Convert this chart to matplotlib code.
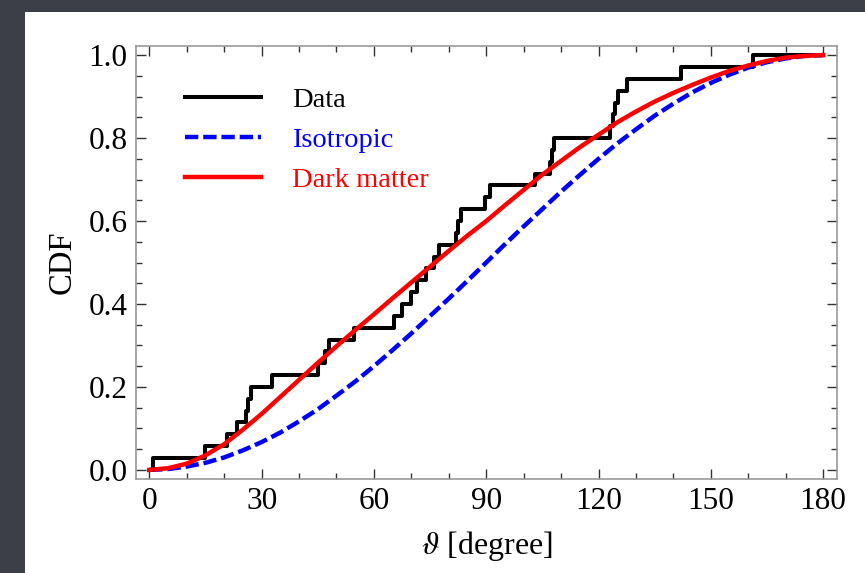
import numpy as np
import matplotlib
matplotlib.use("Agg")
import matplotlib.pyplot as plt
from matplotlib.patches import Rectangle
from matplotlib.ticker import MultipleLocator

# ---- data ----
# observed angles (degrees), one per step of the empirical CDF
data_angles = [0.9, 15.0, 20.8, 23.5, 25.9, 26.4, 27.1, 32.7, 45.1, 46.9,
               48.0, 54.7, 65.3, 67.5, 70.0, 71.5, 74.0, 76.0, 77.4, 81.8,
               82.5, 83.2, 89.6, 90.9, 103.1, 107.0, 107.5, 108.0, 123.0,
               123.8, 124.4, 125.3, 127.7, 142.1, 161.3]

curve_theta = [0, 5, 10, 15, 20, 25, 30, 35, 40, 45, 50, 55, 60, 65, 70, 75,
               80, 85, 90, 95, 100, 105, 110, 115, 120, 125, 130, 135, 140,
               145, 150, 155, 160, 165, 170, 175, 180]
isotropic_cdf = [0.000, 0.002, 0.008, 0.017, 0.030, 0.047, 0.067, 0.090,
                 0.117, 0.146, 0.179, 0.213, 0.250, 0.289, 0.329, 0.371,
                 0.413, 0.456, 0.500, 0.544, 0.587, 0.629, 0.671, 0.711,
                 0.750, 0.787, 0.821, 0.854, 0.883, 0.910, 0.933, 0.953,
                 0.970, 0.983, 0.992, 0.998, 1.000]
darkmatter_cdf = [0.000, 0.004, 0.015, 0.035, 0.062, 0.097, 0.135, 0.176,
                  0.217, 0.258, 0.298, 0.337, 0.375, 0.414, 0.452, 0.490,
                  0.528, 0.565, 0.600, 0.638, 0.675, 0.712, 0.745, 0.778,
                  0.808, 0.838, 0.864, 0.888, 0.909, 0.928, 0.946, 0.962,
                  0.975, 0.986, 0.994, 0.998, 1.000]

x_ticks = [0, 30, 60, 90, 120, 150, 180]
y_ticks = [0.0, 0.2, 0.4, 0.6, 0.8, 1.0]
labels = ["Data", "Isotropic", "Dark matter"]

# ---- figure ----
plt.rcParams['font.family'] = ['Liberation Serif', 'DejaVu Serif']
plt.rcParams['mathtext.fontset'] = 'stix'

W, H = 865, 573
fig = plt.figure(figsize=(W / 100, H / 100), dpi=100, facecolor='#3c3f47')
bg = Rectangle((25 / W, 0), 1 - 25 / W, 1 - 12 / H,
               transform=fig.transFigure, facecolor='white',
               edgecolor='none', zorder=-10)
fig.add_artist(bg)

ax = fig.add_axes([136 / W, 1 - 479 / H, (837 - 136) / W, (479 - 46) / H])
ax.set_zorder(5)
ax.set_facecolor('white')

# empirical CDF
n = len(data_angles)
sx = [0.0] + sorted(data_angles) + [180.0]
sy = [0.0] + [(i + 1) / n for i in range(n)] + [1.0]
ax.step(sx, sy, where='post', color='black', lw=2.9, label=labels[0],
        zorder=3)
ax.plot(curve_theta, isotropic_cdf, color='#0000ff', lw=3.2,
        dashes=(3.0, 1.1), label=labels[1], zorder=4)
ax.plot(curve_theta, darkmatter_cdf, color='#ff0000', lw=3.2,
        label=labels[2], zorder=5)

ax.set_xlim(-3.55, 183.7)
ax.set_ylim(-0.022, 1.022)
ax.set_xticks(x_ticks)
ax.set_yticks(y_ticks)
ax.set_yticklabels([f"{v:.1f}" for v in y_ticks])
ax.xaxis.set_minor_locator(MultipleLocator(10))
ax.yaxis.set_minor_locator(MultipleLocator(0.05))
ax.tick_params(which='both', direction='in', top=True, right=True,
               color='#333333', width=1.0)
ax.tick_params(which='major', length=7, labelsize=22.5, pad=6)
ax.tick_params(which='minor', length=4)
for s in ax.spines.values():
    s.set_color('#999999')
    s.set_linewidth(1.2)

ax.set_xlabel(r'$\vartheta$ [degree]', fontsize=23, labelpad=9)
ax.set_ylabel('CDF', fontsize=23.5, labelpad=8)

leg = ax.legend(loc='upper left', bbox_to_anchor=(0.034, 0.965),
                frameon=False, fontsize=20.5, handlelength=2.65,
                handletextpad=1.1, labelspacing=0.5,
                labelcolor=['black', '#0000ff', '#ff0000'])

fig.savefig('out.png', dpi=100, facecolor=fig.get_facecolor())
